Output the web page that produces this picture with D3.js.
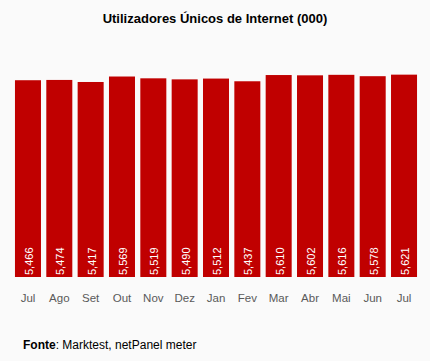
<!DOCTYPE html>
<html><head><meta charset="utf-8">
<script src="https://cdn.jsdelivr.net/npm/d3@7"></script>
<style>
html,body{margin:0;padding:0;background:#fafafa;}
svg{display:block;font-family:"Liberation Sans",Arial,sans-serif;}
</style></head>
<body>
<svg id="c" width="430" height="361"></svg>
<script>
const months = ["Jul","Ago","Set","Out","Nov","Dez","Jan","Fev","Mar","Abr","Mai","Jun","Jul"];
const values = [5466,5474,5417,5569,5519,5490,5512,5437,5610,5602,5616,5578,5621];
const title = "Utilizadores Únicos de Internet (000)";

const svg = d3.select("#c");
svg.append("rect").attr("width",430).attr("height",361).attr("fill","#fafafa");

const ids = months.map((m,i)=>i);
const x = d3.scaleBand().domain(ids).range([12.3,419.7]).paddingInner(0.17).paddingOuter(0.085);
const y = d3.scaleLinear().domain([0,6000]).range([277,61]);

svg.append("text").attr("x",215).attr("y",23).attr("text-anchor","middle")
  .attr("font-size",13).attr("font-weight","bold").attr("fill","#000").text(title);

svg.selectAll("rect.bar").data(values).enter().append("rect").attr("class","bar")
  .attr("x",(d,i)=>x(i)).attr("width",x.bandwidth())
  .attr("y",d=>y(d)).attr("height",d=>y(0)-y(d)).attr("fill","#c00000");

const fmt = d3.format(",");
svg.selectAll("text.val").data(values).enter().append("text").attr("class","val")
  .attr("transform",(d,i)=>`translate(${x(i)+x.bandwidth()/2+5},${y(0)-2}) rotate(-90)`)
  .attr("font-size",11).attr("fill","#fff").text(d=>fmt(d));

const xAxis = d3.axisBottom(x).tickSize(0).tickFormat(i=>months[i]);
const g = svg.append("g").attr("transform",`translate(0,${y(0)})`).call(xAxis);
g.select(".domain").remove();
g.selectAll("text").attr("font-size",11.5).attr("fill","#595959")
  .attr("font-family","'Liberation Sans',Arial,sans-serif").attr("dy","1.95em");

const foot = svg.append("text").attr("x",23).attr("y",349).attr("font-size",12).attr("fill","#000");
foot.append("tspan").attr("font-weight","bold").text("Fonte");
foot.append("tspan").text(": Marktest, netPanel meter");
</script>
</body></html>
